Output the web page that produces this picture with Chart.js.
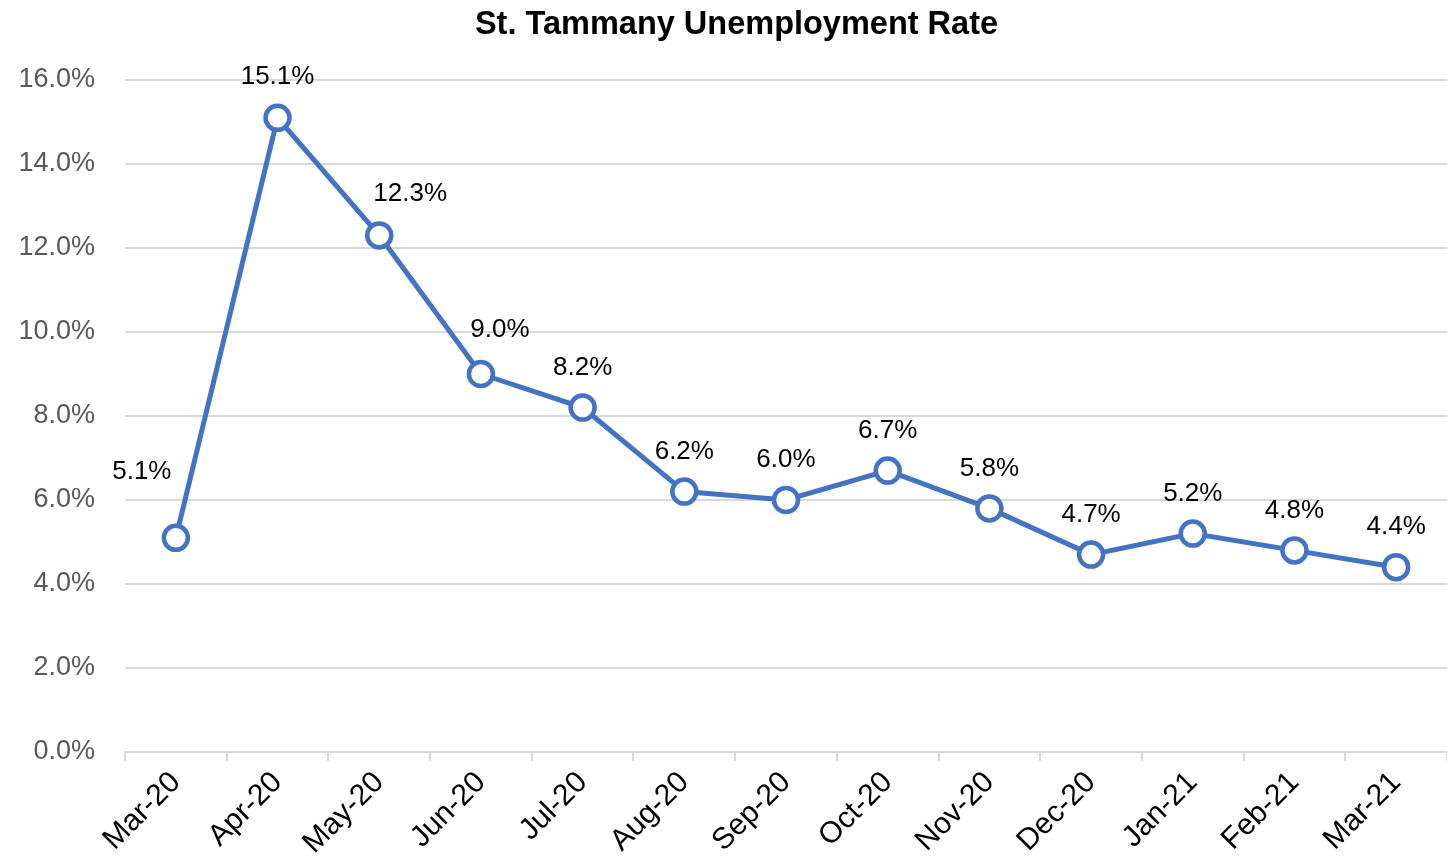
<!DOCTYPE html>
<html>
<head>
<meta charset="utf-8">
<script src="https://cdn.jsdelivr.net/npm/chart.js@4"></script>
<style>
  html, body { margin: 0; padding: 0; background: #fff; }
  #wrap { width: 1447px; height: 862px; }
</style>
</head>
<body>
<div id="wrap"><canvas id="chart" width="1447" height="862"></canvas></div>
<script>
// Monthly unemployment rate, St. Tammany
const months = ['Mar-20', 'Apr-20', 'May-20', 'Jun-20', 'Jul-20', 'Aug-20', 'Sep-20',
                'Oct-20', 'Nov-20', 'Dec-20', 'Jan-21', 'Feb-21', 'Mar-21'];
const rates = [5.1, 15.1, 12.3, 9.0, 8.2, 6.2, 6.0, 6.7, 5.8, 4.7, 5.2, 4.8, 4.4];

const FONT = "'Liberation Sans', Arial, sans-serif";
const BLUE = '#4472C4';

// small label nudges (x, y) so the value labels sit like in the original
const labelNudge = [[-34, -66], [0, -41], [31, -42], [19, -44], [0, -40], [0, -40], [0, -40],
                    [0, -40], [0, -40], [0, -40], [0, -40], [0, -40], [0, -40]];

// draws the value labels above the points, and nudges the title a bit right
const valueLabels = {
    id: 'valueLabels',
    afterLayout(chart) {
        if (chart.titleBlock) chart.titleBlock.left = 26;
    },
    afterDatasetsDraw(chart) {
        const ctx = chart.ctx;
        const meta = chart.getDatasetMeta(0);
        ctx.save();
        ctx.font = '26px ' + FONT;
        ctx.fillStyle = '#000';
        ctx.textAlign = 'center';
        ctx.textBaseline = 'middle';
        meta.data.forEach((pt, i) => {
            const n = labelNudge[i] || [0, -40];
            ctx.fillText(rates[i].toFixed(1) + '%', pt.x + n[0], pt.y + n[1]);
        });
        ctx.restore();
    }
};

new Chart(document.getElementById('chart').getContext('2d'), {
    type: 'line',
    data: {
        labels: months,
        datasets: [{
            data: rates,
            borderColor: BLUE,
            borderWidth: 5,
            pointRadius: 12,
            pointBorderWidth: 4.5,
            pointBackgroundColor: '#fff',
            pointBorderColor: BLUE,
            tension: 0,
            clip: false
        }]
    },
    options: {
        responsive: false,
        animation: false,
        layout: { autoPadding: false, padding: 0 },
        plugins: {
            legend: { display: false },
            tooltip: { enabled: false },
            title: {
                display: true,
                text: 'St. Tammany Unemployment Rate',
                color: '#000',
                font: { family: FONT, size: 32.5, weight: 'bold' },
                padding: { top: 6, bottom: 35 }
            }
        },
        scales: {
            x: {
                offset: true,
                grid: {
                    offset: true,
                    drawOnChartArea: false,
                    drawTicks: true,
                    tickLength: 9,
                    color: '#d9d9d9',
                    lineWidth: 2
                },
                border: { color: '#d9d9d9', width: 2 },
                ticks: {
                    color: '#000',
                    font: { family: FONT, size: 30 },
                    minRotation: 45,
                    maxRotation: 45,
                    autoSkip: false,
                    padding: 4
                },
                afterFit(scale) { scale.height = 110; }
            },
            y: {
                min: 0,
                max: 16,
                ticks: {
                    stepSize: 2,
                    color: '#595959',
                    font: { family: FONT, size: 27 },
                    padding: 30,
                    callback: v => v.toFixed(1) + '%'
                },
                grid: { color: '#d9d9d9', lineWidth: 2, drawTicks: false },
                border: { display: false },
                afterFit(scale) { scale.width = 125; }
            }
        }
    },
    plugins: [valueLabels]
});
</script>
</body>
</html>
